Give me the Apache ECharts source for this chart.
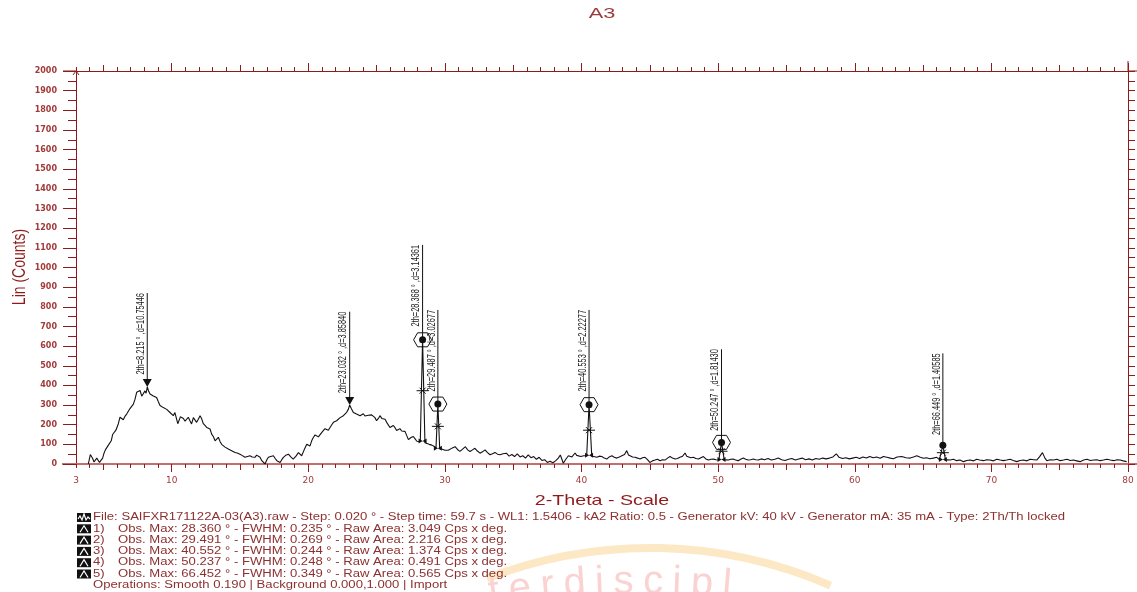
<!DOCTYPE html>
<html>
<head>
<meta charset="utf-8">
<script src="https://cdn.jsdelivr.net/npm/echarts@6/dist/echarts.min.js"></script>
<style>
  html, body { margin: 0; padding: 0; background: #fff; }
  #chart { width: 1137px; height: 592px; }
</style>
</head>
<body>
<div id="chart"></div>
<script>
// Diffraction scan A3: 2-theta (deg) and intensity (counts)
const twoTheta = [
  3.90, 4.05, 4.12, 4.22, 4.32, 4.42, 4.52, 4.62, 4.72, 4.82,
  4.95, 5.05, 5.15, 5.27, 5.37, 5.47, 5.58, 5.68, 5.80, 5.92,
  6.00, 6.10, 6.22, 6.34, 6.46, 6.58, 6.71, 6.83, 6.95, 7.07,
  7.20, 7.32, 7.44, 7.56, 7.69, 7.81, 7.93, 8.05, 8.13, 8.22,
  8.32, 8.42, 8.54, 8.66, 8.78, 8.90, 9.02, 9.15, 9.27, 9.39,
  9.52, 9.64, 9.76, 9.88, 10.00, 10.12, 10.24, 10.37, 10.45, 10.55,
  10.64, 10.73, 10.86, 10.98, 11.10, 11.22, 11.34, 11.46, 11.59, 11.71,
  11.83, 11.95, 12.08, 12.20, 12.32, 12.45, 12.57, 12.69, 12.81, 12.93,
  13.05, 13.18, 13.30, 13.42, 13.54, 13.66, 13.79, 13.91, 14.03, 14.15,
  14.27, 14.39, 14.51, 14.64, 14.80, 15.00, 15.15, 15.25, 15.37, 15.55,
  15.73, 15.90, 16.10, 16.22, 16.35, 16.47, 16.60, 16.72, 16.84, 16.96,
  17.08, 17.25, 17.45, 17.58, 17.70, 17.82, 17.94, 18.06, 18.18, 18.35,
  18.55, 18.72, 18.90, 19.10, 19.28, 19.40, 19.52, 19.70, 19.89, 20.01,
  20.13, 20.25, 20.37, 20.50, 20.62, 20.74, 20.86, 20.98, 21.10, 21.22,
  21.35, 21.47, 21.59, 21.72, 21.84, 21.96, 22.08, 22.20, 22.33, 22.45,
  22.57, 22.69, 22.81, 22.93, 23.03, 23.15, 23.30, 23.42, 23.54, 23.66,
  23.79, 23.91, 24.03, 24.15, 24.28, 24.40, 24.52, 24.64, 24.76, 24.88,
  25.00, 25.13, 25.25, 25.38, 25.50, 25.62, 25.74, 25.86, 25.98, 26.10,
  26.23, 26.35, 26.47, 26.59, 26.71, 26.84, 26.96, 27.08, 27.20, 27.33,
  27.40, 27.52, 27.69, 27.82, 27.95, 28.06, 28.20, 28.368, 28.54, 28.67,
  28.85, 29.04, 29.20, 29.35, 29.487, 29.62, 29.77, 29.90, 30.00, 30.13,
  30.25, 30.38, 30.55, 30.75, 30.92, 31.10, 31.30, 31.50, 31.67, 31.84,
  32.02, 32.20, 32.38, 32.57, 32.75, 32.94, 33.12, 33.30, 33.48, 33.67,
  33.85, 34.04, 34.25, 34.50, 34.70, 34.90, 35.10, 35.30, 35.50, 35.70,
  35.90, 36.10, 36.30, 36.50, 36.70, 36.90, 37.10, 37.30, 37.50, 37.70,
  37.90, 38.10, 38.30, 38.45, 38.67, 38.85, 39.04, 39.30, 39.53, 39.65,
  39.77, 39.95, 40.16, 40.38, 40.553, 40.75, 40.90, 41.12, 41.30, 41.49,
  41.67, 41.85, 42.03, 42.22, 42.40, 42.58, 42.77, 42.95, 43.15, 43.31,
  43.44, 43.56, 43.74, 43.92, 44.10, 44.29, 44.47, 44.65, 44.83, 45.00,
  45.19, 45.38, 45.56, 45.75, 45.93, 46.11, 46.30, 46.48, 46.66, 46.85,
  47.03, 47.20, 47.40, 47.58, 47.70, 47.82, 48.00, 48.19, 48.37, 48.56,
  48.74, 48.92, 49.10, 49.30, 49.48, 49.65, 49.85, 50.05, 50.247, 50.45,
  50.60, 50.75, 50.92, 51.10, 51.28, 51.47, 51.65, 51.84, 52.02, 52.20,
  52.38, 52.57, 52.75, 52.94, 53.15, 53.40, 53.65, 53.90, 54.15, 54.40,
  54.65, 54.90, 55.15, 55.40, 55.65, 55.90, 56.15, 56.40, 56.65, 56.90,
  57.15, 57.40, 57.65, 57.90, 58.15, 58.40, 58.65, 58.85, 59.10, 59.35,
  59.60, 59.85, 60.10, 60.35, 60.60, 60.85, 61.10, 61.35, 61.60, 61.86,
  62.10, 62.35, 62.60, 62.83, 63.10, 63.44, 63.75, 64.05, 64.30, 64.54,
  64.80, 65.03, 65.25, 65.50, 65.75, 66.00, 66.20, 66.449, 66.65, 66.80,
  66.98, 67.22, 67.47, 67.70, 67.96, 68.20, 68.44, 68.70, 68.93, 69.15,
  69.42, 69.65, 69.90, 70.15, 70.40, 70.65, 70.88, 71.12, 71.37, 71.60,
  71.86, 72.10, 72.35, 72.60, 72.84, 73.10, 73.32, 73.52, 73.74, 73.92,
  74.06, 74.30, 74.55, 74.80, 75.04, 75.28, 75.53, 75.78, 76.00, 76.25,
  76.50, 76.75, 77.00, 77.25, 77.48, 77.72, 77.97, 78.20, 78.46, 78.70,
  78.95, 79.20, 79.43, 79.65, 79.90
];
const counts = [
  0, 48, 40, 28, 10, 18, 30, 22, 8, 4,
  30, 55, 72, 65, 96, 86, 118, 150, 158, 172,
  180, 205, 238, 232, 225, 242, 254, 268, 282, 272,
  305, 330, 365, 370, 374, 345, 355, 372, 360, 392,
  370, 356, 358, 346, 340, 338, 318, 298, 292, 287,
  285, 278, 270, 262, 258, 246, 262, 256, 205, 215,
  240, 236, 232, 218, 226, 238, 220, 204, 236, 226,
  212, 228, 246, 230, 205, 200, 186, 196, 178, 152,
  140, 118, 125, 136, 115, 100, 92, 86, 80, 76,
  72, 68, 66, 59, 56, 50, 44, 40, 34, 38,
  42, 36, 34, 45, 51, 34, 17, 8, 0, 20,
  34, 38, 42, 28, 17, 10, 8, 22, 34, 44,
  50, 36, 25, 40, 58, 48, 42, 72, 100, 104,
  92, 118, 135, 148, 152, 138, 144, 160, 168, 180,
  186, 172, 178, 200, 212, 216, 220, 228, 236, 240,
  246, 252, 263, 278, 300, 282, 262, 258, 254, 250,
  246, 256, 256, 244, 238, 248, 254, 250, 246, 236,
  220, 232, 246, 232, 222, 228, 212, 205, 186, 194,
  196, 185, 170, 176, 180, 168, 160, 166, 168, 124,
  118, 135, 140, 128, 116, 114, 114, 632, 108, 104,
  100, 96, 90, 82, 305, 78, 76, 72, 70, 72,
  70, 76, 82, 88, 74, 64, 76, 88, 72, 64,
  72, 80, 66, 55, 62, 72, 58, 47, 52, 59,
  50, 47, 52, 55, 40, 48, 38, 52, 36, 42,
  30, 46, 32, 38, 24, 34, 18, 22, 8, 14,
  6, 16, 30, 46, 4, 24, 42, 36, 56, 44,
  34, 38, 42, 42, 302, 40, 38, 34, 40, 38,
  30, 25, 36, 42, 34, 30, 36, 42, 48, 68,
  46, 38, 36, 34, 30, 25, 32, 34, 22, 8,
  16, 20, 24, 17, 22, 20, 30, 38, 30, 25,
  28, 34, 40, 56, 40, 30, 32, 34, 28, 25,
  32, 38, 26, 20, 24, 25, 22, 20, 110, 20,
  22, 20, 24, 25, 20, 17, 24, 30, 24, 20,
  22, 25, 22, 20, 26, 22, 28, 20, 24, 30,
  22, 18, 24, 28, 20, 25, 30, 22, 26, 20,
  28, 24, 30, 26, 30, 36, 52, 34, 28, 32,
  26, 30, 34, 28, 36, 30, 38, 32, 36, 29,
  38, 34, 30, 27, 36, 38, 32, 30, 36, 42,
  34, 29, 32, 27, 30, 34, 22, 95, 18, 22,
  20, 24, 17, 20, 12, 18, 20, 16, 24, 20,
  17, 22, 20, 16, 24, 20, 17, 20, 24, 18,
  12, 18, 20, 16, 24, 22, 20, 36, 58, 30,
  17, 22, 20, 24, 17, 20, 24, 18, 20, 16,
  12, 20, 24, 18, 20, 22, 17, 20, 24, 20,
  17, 22, 20, 16, 12
];

// Axis labels
const xTickLabels = [3, 10, 20, 30, 40, 50, 60, 70, 80];
const xMajorTicks = [10, 20, 30, 40, 50, 60, 70, 80];
const xMidTicks = [5, 15, 25, 35, 45, 55, 65, 75];

// Identified peaks: position, d-spacing, apex, base level, top of the leader line
const peakTheta = [8.215, 23.032, 28.368, 29.487, 40.553, 50.247, 66.449];
const peakD = ['10.75446', '3.85840', '3.14361', '3.02677', '2.22277', '1.81430', '1.40585'];
const peakCounts = [392, 300, 632, 305, 302, 110, 95];
const peakBase = [0, 0, 114, 78, 42, 20, 20];
const peakLineTop = [870, 775, 1115, 784, 784, 584, 563];
const peakMarker = ['triangle', 'triangle', 'hexagon', 'hexagon', 'hexagon', 'hexagon', 'dot'];

// Scan information block
const scanInfo = 'File: SAIFXR171122A-03(A3).raw - Step: 0.020 ° - Step time: 59.7 s - WL1: 1.5406 - kA2 Ratio: 0.5 - Generator kV: 40 kV - Generator mA: 35 mA - Type: 2Th/Th locked';
const obsMax = ['28.360', '29.491', '40.552', '50.237', '66.452'];
const fwhm = ['0.235', '0.269', '0.244', '0.248', '0.349'];
const rawArea = ['3.049', '2.216', '1.374', '0.491', '0.565'];
const operations = 'Operations: Smooth 0.190 | Background 0.000,1.000 | Import';

const AXIS = '#8e1b1b';
const LABEL = '#a33a3a';
const INFO = '#8c3030';
const FONT = 'Arial, "Liberation Sans", sans-serif';
const TICKFONT = '"DejaVu Sans", sans-serif';
const WIDE = 1.31;   // horizontal stretch of the text face

const chart = echarts.init(document.getElementById('chart'), null, { renderer: 'canvas' });

function tickAxis(position, extra) {
  return Object.assign({
    type: 'value', min: 3, max: 80, position: position,
    axisLine: { show: false, onZero: false },
    axisLabel: { show: false },
    splitLine: { show: false },
    axisTick: { show: true, lineStyle: { color: AXIS, width: 1 } }
  }, extra);
}

const xAxes = [
  {
    type: 'value', min: 3, max: 80, position: 'bottom',
    axisLine: { show: true, onZero: false, lineStyle: { color: '#c07070', width: 2 } },
    splitLine: { show: false },
    axisTick: { show: true, customValues: xMajorTicks, length: 8, lineStyle: { color: AXIS, width: 1 } },
    axisLabel: { customValues: xTickLabels, color: LABEL, fontSize: 9, fontFamily: TICKFONT, margin: 12 }
  },
  tickAxis('bottom', { interval: 1, axisTick: { show: true, length: 4, lineStyle: { color: AXIS } } }),
  tickAxis('bottom', { axisTick: { show: true, customValues: xMidTicks, length: 6, lineStyle: { color: AXIS } } }),
  tickAxis('top', { axisLine: { show: true, onZero: false, lineStyle: { color: AXIS, width: 1 } },
    axisTick: { show: true, customValues: xMajorTicks, length: 8, lineStyle: { color: AXIS } } }),
  tickAxis('top', { interval: 1, axisTick: { show: true, length: 4, lineStyle: { color: AXIS } } }),
  tickAxis('top', { axisTick: { show: true, customValues: xMidTicks, length: 6, lineStyle: { color: AXIS } } })
];

const yAxes = [
  {
    type: 'value', min: 0, max: 2000, interval: 100, position: 'left',
    axisLine: { show: true, onZero: false, lineStyle: { color: AXIS, width: 1 } },
    axisTick: { show: true, length: 13, lineStyle: { color: AXIS, width: 1 } },
    axisLabel: { color: LABEL, fontSize: 8, fontWeight: 'bold', fontFamily: TICKFONT, margin: 19,
      formatter: function (v) { return String(v); } },
    splitLine: { show: false }
  },
  {
    type: 'value', min: 0, max: 2000, interval: 50, position: 'left',
    axisLine: { show: false, onZero: false }, axisLabel: { show: false }, splitLine: { show: false },
    axisTick: { show: true, length: 8, lineStyle: { color: AXIS, width: 1 } }
  },
  {
    type: 'value', min: 0, max: 2000, interval: 50, position: 'right',
    axisLine: { show: true, onZero: false, lineStyle: { color: AXIS, width: 1 } },
    axisLabel: { show: false }, splitLine: { show: false },
    axisTick: { show: true, length: 7, lineStyle: { color: AXIS, width: 1 } }
  }
];

// Leader lines, rotated peak labels and peak-search markers
function renderPeak(params, api) {
  const i = params.dataIndex;
  const t = api.value(0);
  const kind = peakMarker[i];
  const ink = '#111';
  const apex = api.coord([t, api.value(1)]);
  const top = api.coord([t, api.value(3)]);
  const els = [];
  const start = kind === 'triangle' ? apex[1] - 7 : apex[1];
  els.push({ type: 'line', shape: { x1: apex[0], y1: start, x2: top[0], y2: top[1] },
    style: { stroke: ink, lineWidth: 1 } });
  els.push({ type: 'text', x: top[0] - 1, y: top[1], rotation: Math.PI / 2, scaleX: 0.74,
    style: { text: '2th=' + t.toFixed(3) + ' ° ,d=' + peakD[i], fill: '#1a1a1a',
      font: '10px ' + FONT, align: 'right', verticalAlign: 'bottom' } });
  if (kind === 'triangle') {
    els.push({ type: 'polygon', shape: { points: [[apex[0] - 4.5, apex[1] - 8], [apex[0] + 4.5, apex[1] - 8], [apex[0], apex[1]]] },
      style: { fill: ink } });
  } else {
    if (kind === 'hexagon') {
      const x = apex[0], y = apex[1];
      els.push({ type: 'polygon', shape: { points: [[x - 9, y], [x - 5, y - 7], [x + 5, y - 7], [x + 9, y], [x + 5, y + 7], [x - 5, y + 7]] },
        style: { fill: 'none', stroke: ink, lineWidth: 1 } });
    }
    els.push({ type: 'circle', shape: { cx: apex[0], cy: apex[1], r: 3.5 }, style: { fill: ink } });
    const half = api.coord([t, (api.value(1) + api.value(2)) / 2]);
    els.push({ type: 'line', shape: { x1: half[0] - 6, y1: half[1], x2: half[0] + 6, y2: half[1] }, style: { stroke: ink, lineWidth: 1 } });
    els.push({ type: 'line', shape: { x1: half[0] - 3, y1: half[1] - 3, x2: half[0] + 3, y2: half[1] + 3 }, style: { stroke: ink, lineWidth: 1 } });
    els.push({ type: 'line', shape: { x1: half[0] - 3, y1: half[1] + 3, x2: half[0] + 3, y2: half[1] - 3 }, style: { stroke: ink, lineWidth: 1 } });
    const base = api.coord([t, api.value(2)]);
    els.push({ type: 'polygon', shape: { points: [[base[0] - 4, base[1] - 3], [base[0] + 4, base[1] + 2], [base[0] + 4, base[1] - 3], [base[0] - 4, base[1] + 2]] },
      style: { fill: ink } });
  }
  return { type: 'group', children: els };
}

// Info block below the plot
function infoIcon(x, y, wave) {
  const pts = wave
    ? [[x + 1, y + 6], [x + 3, y + 3], [x + 5, y + 7], [x + 7, y + 1], [x + 9, y + 7], [x + 11, y + 4], [x + 13, y + 6]]
    : [[x + 3, y + 8], [x + 7, y + 1.5], [x + 11, y + 8]];
  return [
    { type: 'rect', shape: { x: x, y: y, width: 14, height: 9 }, style: { fill: '#111' } },
    { type: 'polyline', shape: { points: pts }, style: { stroke: '#fff', lineWidth: 1.2, fill: 'none' } }
  ];
}
function infoText(x, y, text) {
  return { type: 'text', x: x, y: y, scaleX: WIDE,
    style: { text: text, fill: INFO, font: '10px ' + FONT, verticalAlign: 'middle' } };
}

const infoTop = 517.5, infoStep = 11.3;
const graphics = [];
// chart title and axis titles
graphics.push({ type: 'text', x: 602, y: 14, scaleX: 1.45,
  style: { text: 'A3', fill: '#9a3c3c', font: '15px ' + FONT, align: 'center', verticalAlign: 'middle' } });
graphics.push({ type: 'text', x: 602, y: 501, scaleX: WIDE,
  style: { text: '2-Theta - Scale', fill: AXIS, font: '15px ' + FONT, align: 'center', verticalAlign: 'middle' } });
graphics.push({ type: 'text', x: 20, y: 267, rotation: Math.PI / 2, scaleY: WIDE,
  style: { text: 'Lin (Counts)', fill: AXIS, font: '14px ' + FONT, align: 'center', verticalAlign: 'middle' } });

graphics.push(...infoIcon(77, infoTop - 4.5, true));
graphics.push(infoText(93, infoTop, scanInfo));
obsMax.forEach(function (v, k) {
  const y = infoTop + infoStep * (k + 1);
  graphics.push(...infoIcon(77, y - 4.5, false));
  graphics.push(infoText(93, y, (k + 1) + ')'));
  graphics.push(infoText(118, y, 'Obs. Max: ' + v + ' ° - FWHM: ' + fwhm[k] + ' ° - Raw Area: ' + rawArea[k] + ' Cps x deg.'));
});
graphics.push(infoText(93, infoTop + infoStep * 6, operations));

// Faint circular seal at the bottom edge: outer ring and the part of its lettering in view
graphics.push({ type: 'arc', z: -10, shape: { cx: 650, cy: 1000, r: 452, startAngle: -1.94, endAngle: -1.16, clockwise: true },
  style: { stroke: '#fde8c6', lineWidth: 8, fill: 'none' } });
(function () {
  const letters = 'terdiscipl';
  const ctx = document.createElement('canvas').getContext('2d');
  const sealFont = '40px ' + FONT;
  ctx.font = sealFont;
  const cx = 640, cy = 1610, R = 1010, track = 9;
  let phi = Math.asin((497 - cx) / R) - (ctx.measureText('t').width / 2) / R;
  for (let k = 0; k < letters.length; k++) {
    const w = ctx.measureText(letters[k]).width;
    const mid = phi + (w / 2) / R;
    graphics.push({ type: 'text', z: -10,
      x: cx + R * Math.sin(mid), y: cy - R * Math.cos(mid) + 2, rotation: -mid,
      style: { text: letters[k], fill: '#fad2d2', font: sealFont, align: 'center', verticalAlign: 'bottom' } });
    phi += (w + track) / R;
  }
})();

chart.setOption({
  animation: false,
  backgroundColor: '#fff',
  grid: { left: 76, right: 9, top: 71, bottom: 128, containLabel: false, outerBoundsMode: 'none' },
  xAxis: xAxes,
  yAxis: yAxes,
  graphic: graphics,
  series: [
    {
      type: 'line', xAxisIndex: 0, yAxisIndex: 0,
      data: twoTheta.map(function (t, i) { return [t, counts[i]]; }),
      showSymbol: false, symbol: 'none', smooth: false,
      lineStyle: { color: '#111', width: 1.1 }, z: 3
    },
    {
      type: 'custom', xAxisIndex: 0, yAxisIndex: 0, z: 4,
      data: peakTheta.map(function (t, i) { return [t, peakCounts[i], peakBase[i], peakLineTop[i]]; }),
      renderItem: renderPeak, silent: true
    }
  ]
});

// Axis line overhangs and the arrow head on the intensity axis
const o = chart.convertToPixel({ xAxisIndex: 0, yAxisIndex: 0 }, [3, 0]);
const e = chart.convertToPixel({ xAxisIndex: 0, yAxisIndex: 0 }, [80, 2000]);
chart.setOption({
  graphic: graphics.concat([
    { type: 'line', shape: { x1: o[0] - 14, y1: o[1], x2: o[0], y2: o[1] }, style: { stroke: '#c07070', lineWidth: 2 } },
    { type: 'line', shape: { x1: e[0], y1: o[1], x2: e[0] + 9, y2: o[1] }, style: { stroke: '#c07070', lineWidth: 2 } },
    { type: 'line', shape: { x1: o[0] - 13, y1: e[1], x2: o[0], y2: e[1] }, style: { stroke: AXIS, lineWidth: 1 } },
    { type: 'line', shape: { x1: e[0], y1: e[1], x2: e[0] + 9, y2: e[1] }, style: { stroke: AXIS, lineWidth: 1 } },
    { type: 'line', shape: { x1: e[0], y1: e[1] - 10, x2: e[0], y2: e[1] }, style: { stroke: AXIS, lineWidth: 1 } },
    { type: 'polyline', shape: { points: [[o[0] - 3, e[1] + 4], [o[0], e[1]], [o[0] + 3, e[1] + 4]] }, style: { stroke: AXIS, lineWidth: 1, fill: 'none' } }
  ])
}, { replaceMerge: ['graphic'] });
</script>
</body>
</html>
